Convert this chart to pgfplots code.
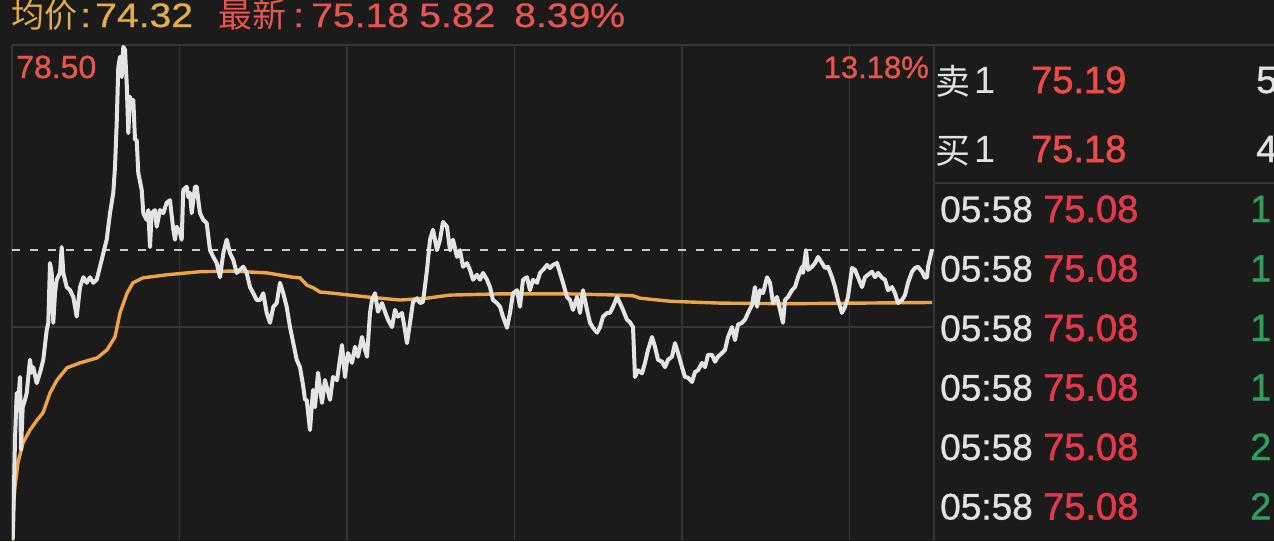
\documentclass[border=0pt]{standalone}
\usepackage{fontspec}
\setmainfont{Liberation Sans}
\newfontfamily\cjk{Noto Sans CJK SC}
\newfontfamily\medf[FakeBold=1.6]{Liberation Sans}
\newfontfamily\semif[FakeBold=1.0]{Liberation Sans}
\newfontfamily\lightf[FakeBold=0.6]{Liberation Sans}
\usepackage{pgfplots}
\pgfplotsset{compat=1.18}
\usepackage{pgfplotstable}

\definecolor{bg}{HTML}{1B1B1B}
\definecolor{gridc}{HTML}{353535}
\definecolor{priceline}{HTML}{E4E4E4}
\definecolor{avgline}{HTML}{EFA444}
\definecolor{dashc}{HTML}{D4CABC}
\definecolor{gold}{HTML}{E2AE45}
\definecolor{hred}{HTML}{E6564E}
\definecolor{pred}{HTML}{EE4B48}
\definecolor{tred}{HTML}{E5374A}
\definecolor{tgreen}{HTML}{2E9F58}
\definecolor{twhite}{HTML}{E2E2E2}

% price series (x = time position, y = price)
\pgfplotstableread{
x y
12.7 70.47
13.3 70.79
15 72.09
16.7 72.85
18.3 72.74
20 73.11
21 71.93
22.7 72.62
25 72.74
26.7 72.85
30 73.39
31.7 73.18
33.3 73.27
36.7 73.01
40 73.18
43.3 73.39
46.7 73.87
48.3 73.99
50 74.96
51.7 74.80
53.3 73.99
55 74.47
56.7 74.69
60 74.80
61.7 75.22
63.3 74.80
66.7 74.57
70 74.52
73.3 74.41
76.7 74.09
80 74.57
83.3 74.73
86.7 74.64
90 74.73
93.3 74.64
96.7 74.69
100 74.90
103.3 75.12
106.7 75.34
110 75.77
113.3 76.10
115 76.52
116.7 77.23
118.3 78.14
120 78.31
121.7 77.98
123.3 78.47
125 78.42
126.7 77.88
128.3 77.07
130 77.66
131.7 77.49
133.3 77.61
135 76.96
136.7 76.96
138.3 76.42
141.7 76.15
143.3 75.77
146.7 75.66
148.3 75.82
150 75.22
151.7 75.77
155 75.82
156.7 75.55
160 75.82
163.3 75.77
166.7 75.94
170 75.98
173.3 75.50
175 75.34
176.7 75.55
180 75.45
181.7 75.34
183.3 76.15
186.7 76.20
188.3 76.03
190 76.10
191.7 75.77
193.3 75.98
195 76.20
196.7 76.20
198.3 75.98
200 75.77
203.3 75.66
206.7 75.61
210 75.17
213.3 75.06
216.7 74.96
220 74.73
223.3 75.12
226.7 75.34
230 75.12
233.3 75.01
236.7 74.80
240 74.85
243.3 74.90
246.7 74.80
250 74.57
253.3 74.47
256.7 74.36
260 74.36
263.3 74.47
266.7 74.15
270 73.99
273.3 74.25
276.7 74.31
280 74.64
283.3 74.47
286.7 74.25
290 73.92
293.3 73.66
296.7 73.39
300 73.27
303.3 72.95
305 72.74
306.7 72.74
310 72.25
313 72.90
315 72.62
318 73.18
322 72.69
325 73.06
330 72.74
333 73.11
337 73.06
342 73.63
345 73.11
348 73.50
352 73.34
355 73.60
358 73.44
362 73.76
365 73.55
367 73.44
370 74.15
372 74.36
375 74.47
378 74.17
382 74.31
385 74.17
388 74.04
392 73.92
395 74.20
398 74.09
402 74.15
405 73.87
407 73.66
410 73.99
413 74.33
417 74.39
420 74.31
423 74.33
427 74.85
430 75.34
433 75.50
437 75.17
440 75.34
443 75.63
447 75.55
450 75.17
453 75.34
457 75.06
460 75.17
463 74.90
467 74.96
470 74.85
473 74.69
477 74.77
480 74.69
483 74.80
487 74.69
490 74.57
493 74.36
497 74.31
500 74.25
503 74.09
507 73.91
510 74.15
513 74.47
517 74.52
520 74.25
523 74.69
527 74.73
530 74.52
533 74.69
537 74.64
540 74.80
543 74.85
547 74.93
550 74.88
553 74.93
557 74.96
560 74.80
563 74.64
567 74.41
570 74.36
573 74.20
577 74.41
580 74.15
583 74.52
587 74.20
590 73.99
593 73.91
597 73.83
600 73.92
603 74.09
607 74.15
610 74.15
613 74.25
617 74.41
620 74.31
623 74.20
627 74.04
630 74.00
633 73.92
635 73.11
638 73.22
642 73.17
645 73.34
648 73.55
652 73.76
655 73.60
658 73.39
662 73.36
665 73.27
668 73.39
672 73.44
675 73.66
678 73.50
682 73.27
685 73.11
688 73.10
692 73.03
695 73.19
698 73.22
702 73.34
705 73.27
708 73.47
712 73.47
715 73.36
718 73.44
722 73.50
725 73.55
728 73.76
732 73.92
735 73.71
738 73.96
742 73.99
745 74.04
748 74.15
752 74.28
755 74.57
757 74.25
760 74.52
763 74.47
767 74.73
770 74.64
773 74.31
777 74.41
780 74.20
783 73.99
785 74.36
788 74.41
792 74.52
795 74.57
798 74.73
802 74.90
803 74.80
806 75.17
808 74.85
812 74.90
815 74.96
818 75.06
822 74.96
825 74.88
828 74.90
832 74.73
835 74.57
838 74.36
842 74.15
845 74.25
848 74.41
852 74.88
855 74.85
858 74.73
862 74.57
865 74.73
868 74.77
872 74.82
875 74.73
878 74.80
882 74.72
885 74.69
888 74.52
892 74.57
895 74.47
898 74.31
902 74.36
905 74.44
908 74.64
912 74.82
915 74.88
918 74.90
922 74.82
925 74.72
927 74.73
928 74.90
932 75.18
}\pricedata

% average price series
\pgfplotstableread{
x y
12.5 70.45
13.3 70.95
15 71.33
18 71.72
23 72.04
30 72.25
37 72.41
43 72.53
50 72.85
57 73.06
67 73.26
80 73.34
97 73.42
107 73.55
115 73.76
120 74.15
127 74.47
133 74.64
143 74.72
167 74.77
200 74.82
233 74.83
267 74.80
293 74.73
300 74.72
307 74.60
313 74.56
320 74.49
333 74.47
367 74.41
400 74.36
427 74.39
450 74.44
500 74.46
567 74.46
620 74.44
633 74.43
640 74.39
670 74.34
720 74.31
787 74.30
932 74.32
}\avgdata

\begin{document}
\begin{tikzpicture}[x=1pt,y=1pt]
\useasboundingbox (0,0) rectangle (1274,-541);
\fill[bg] (0,0) rectangle (1274,-541);
\begin{axis}[
  at={(12pt,-541pt)}, anchor=south west,
  scale only axis, width=922pt, height=496pt,
  xmin=12, xmax=934, ymin=70.448, ymax=78.50,
  axis line style={draw=none},
  xtick={12,179.5,347,514.5,682,849.5,934},
  ytick={73.92,78.50},
  xticklabels={}, yticklabels={},
  major tick length=0pt,
  grid=major,
  major grid style={draw=gridc, line width=1.4pt},
]
\addplot[dashc, line width=2pt, dash pattern=on 8pt off 10pt] coordinates {(12,75.18) (934,75.18)};
\addplot[avgline, line width=3.4pt, line join=round] table[x=x,y=y] {\avgdata};
\addplot[priceline, line width=4pt, line join=round] table[x=x,y=y] {\pricedata};
\end{axis}
\draw[gridc, line width=1.4pt] (934,-45) -- (1274,-45);
\draw[gridc, line width=1.4pt] (934,-183) -- (1274,-183);

% header
\node[anchor=base west, inner sep=0, text=gold, font=\cjk\fontsize{33}{36}\selectfont] at (11,-27) {均价};
\node[anchor=base west, inner sep=0, text=gold, font=\lightf\fontsize{34}{38}\selectfont, xscale=1.15] at (80,-27) {:};
\node[anchor=base west, inner sep=0, text=gold, font=\lightf\fontsize{34}{38}\selectfont, xscale=1.15] at (95,-27) {74.32};
\node[anchor=base west, inner sep=0, text=hred, font=\cjk\fontsize{34}{38}\selectfont] at (218,-27) {最新};
\node[anchor=base west, inner sep=0, text=hred, font=\lightf\fontsize{34}{38}\selectfont, xscale=1.15] at (293,-27) {:};
\node[anchor=base west, inner sep=0, text=hred, font=\lightf\fontsize{34}{38}\selectfont, xscale=1.15] at (311,-27) {75.18};
\node[anchor=base west, inner sep=0, text=hred, font=\lightf\fontsize{34}{38}\selectfont, xscale=1.15] at (419,-27) {5.82};
\node[anchor=base west, inner sep=0, text=hred, font=\lightf\fontsize{34}{38}\selectfont, xscale=1.15] at (514,-27) {8.39\%};

% chart labels
\node[anchor=base west, inner sep=0, text=hred, font=\semif\fontsize{32}{36}\selectfont] at (16,-78) {78.50};
\node[anchor=base east, inner sep=0, text=hred, font=\semif\fontsize{31}{36}\selectfont] at (929,-78) {13.18\%};

% right panel: ask / bid
\node[anchor=base west, inner sep=0, text=twhite, font=\cjk\fontsize{35}{38}\selectfont] at (935,-94) {卖};
\node[anchor=base west, inner sep=0, text=twhite, font=\fontsize{38}{40}\selectfont] at (974,-93) {1};
\node[anchor=base west, inner sep=0, text=pred, font=\medf\fontsize{38}{40}\selectfont] at (1031,-93) {75.19};
\node[anchor=base west, inner sep=0, text=twhite, font=\semif\fontsize{38}{40}\selectfont] at (1256,-93) {5};
\node[anchor=base west, inner sep=0, text=twhite, font=\cjk\fontsize{35}{38}\selectfont] at (935,-163) {买};
\node[anchor=base west, inner sep=0, text=twhite, font=\fontsize{38}{40}\selectfont] at (974,-162) {1};
\node[anchor=base west, inner sep=0, text=pred, font=\medf\fontsize{38}{40}\selectfont] at (1031,-162) {75.18};
\node[anchor=base west, inner sep=0, text=twhite, font=\semif\fontsize{38}{40}\selectfont] at (1256,-162) {4};

% trade ticks
\foreach \yy/\cnt in {222/1, 281.5/1, 341/1, 400.5/1, 460/2, 519.5/2} {
  \node[anchor=base west, inner sep=0, text=twhite, font=\semif\fontsize{37}{40}\selectfont] at (940,-\yy) {05:58};
  \node[anchor=base west, inner sep=0, text=tred, font=\medf\fontsize{38}{40}\selectfont] at (1043,-\yy) {75.08};
  \node[anchor=base west, inner sep=0, text=tgreen, font=\semif\fontsize{38}{40}\selectfont] at (1250,-\yy) {\cnt};
}
\end{tikzpicture}
\end{document}
